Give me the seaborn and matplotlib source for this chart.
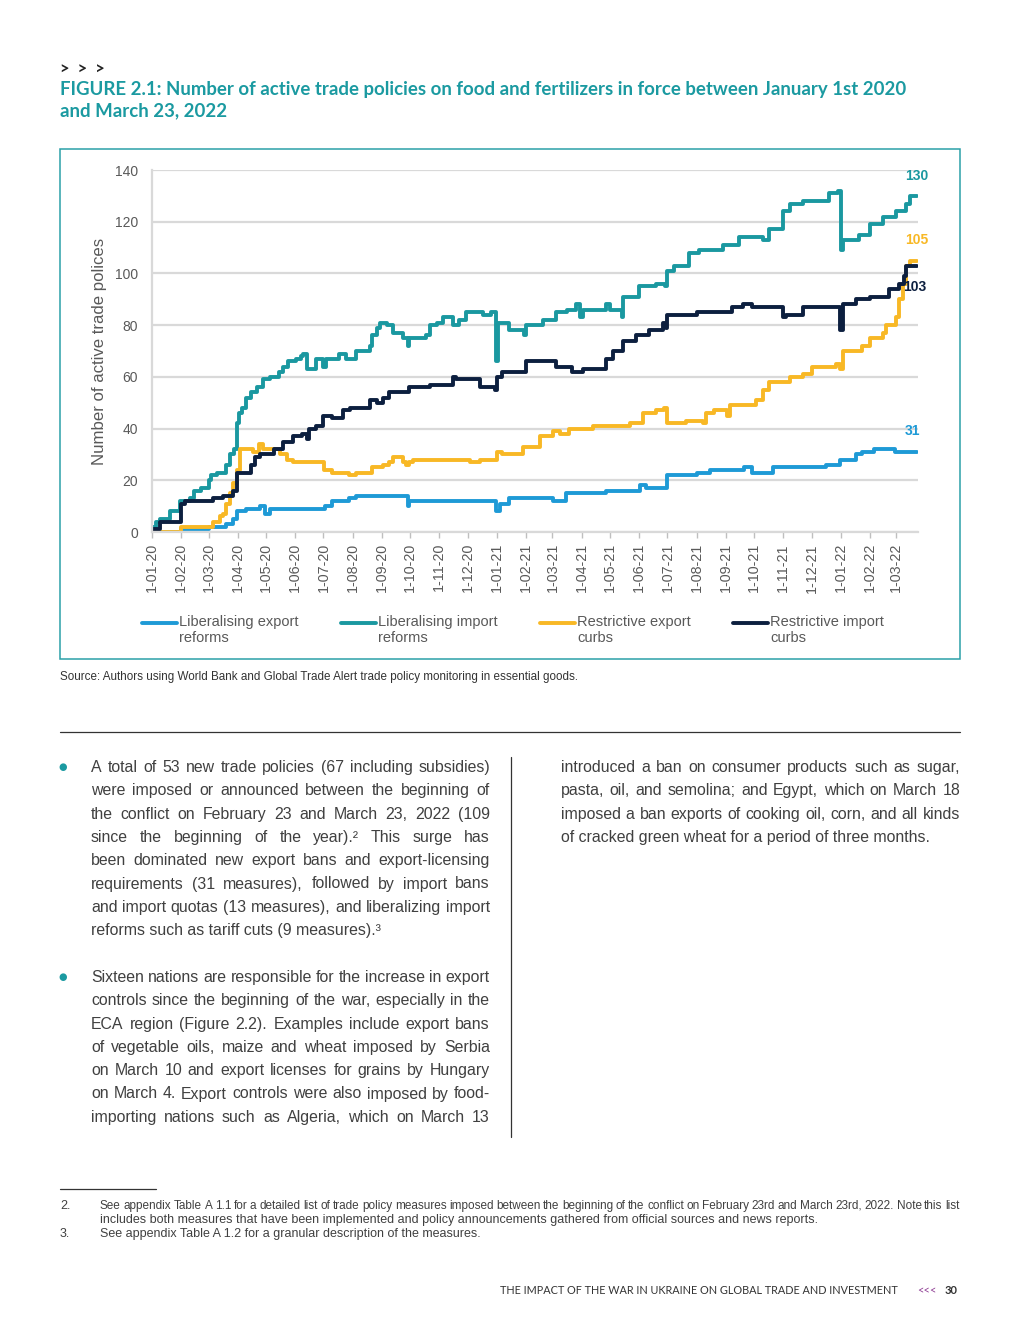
import matplotlib
matplotlib.use('Agg')
import matplotlib.pyplot as plt
import matplotlib.dates as mdates
from matplotlib import font_manager
from matplotlib.patches import Rectangle
from matplotlib.lines import Line2D
from matplotlib.legend_handler import HandlerLine2D
from matplotlib.ticker import FuncFormatter
import seaborn as sns
import pandas as pd

W, H = 1020, 1320

# ---- data ----
lib_export_dates = ['2020-01-01', '2020-02-01', '2020-03-01', '2020-03-20', '2020-03-27', '2020-03-31',
                    '2020-04-10', '2020-04-25', '2020-04-30', '2020-05-05', '2020-07-03', '2020-07-10',
                    '2020-07-28', '2020-08-05', '2020-09-29', '2020-09-30', '2020-12-31', '2021-01-04',
                    '2021-01-14', '2021-03-02', '2021-03-15', '2021-04-27', '2021-06-02', '2021-06-08',
                    '2021-07-01', '2021-08-01', '2021-08-15', '2021-09-20', '2021-09-29', '2021-10-21',
                    '2021-12-16', '2021-12-31', '2022-01-17', '2022-01-24', '2022-02-05', '2022-02-28',
                    '2022-03-23']
lib_export_vals = [0, 1, 2, 3, 5, 8, 9, 10, 7, 9, 10, 12, 13, 14, 10, 12, 8, 11, 13, 12, 15, 16, 18, 17,
                   22, 23, 24, 25, 23, 25, 26, 28, 30, 31, 32, 31, 31]

lib_import_dates = ['2020-01-01', '2020-01-05', '2020-01-10', '2020-01-20', '2020-01-31', '2020-02-10',
                    '2020-02-15', '2020-02-22', '2020-03-01', '2020-03-04', '2020-03-10', '2020-03-20',
                    '2020-03-24', '2020-03-28', '2020-03-31', '2020-04-02', '2020-04-05', '2020-04-10',
                    '2020-04-15', '2020-04-21', '2020-04-28', '2020-05-05', '2020-05-15', '2020-05-19',
                    '2020-05-24', '2020-06-02', '2020-06-07', '2020-06-09', '2020-06-13', '2020-06-23',
                    '2020-06-30', '2020-07-04', '2020-07-18', '2020-07-25', '2020-08-05', '2020-08-19',
                    '2020-08-22', '2020-08-27', '2020-08-30', '2020-09-06', '2020-09-13', '2020-09-23',
                    '2020-09-29', '2020-09-30', '2020-10-18', '2020-10-22', '2020-10-29', '2020-11-05',
                    '2020-11-15', '2020-11-22', '2020-11-29', '2020-12-17', '2020-12-26', '2020-12-31',
                    '2021-01-02', '2021-01-14', '2021-01-30', '2021-02-01', '2021-02-19', '2021-03-05',
                    '2021-03-16', '2021-03-26', '2021-03-30', '2021-04-02', '2021-04-27', '2021-05-01',
                    '2021-05-14', '2021-05-15', '2021-06-01', '2021-06-19', '2021-06-29', '2021-07-01',
                    '2021-07-08', '2021-07-24', '2021-08-04', '2021-08-29', '2021-09-15', '2021-10-10',
                    '2021-10-17', '2021-11-01', '2021-11-08', '2021-11-22', '2021-12-20', '2021-12-29',
                    '2022-01-01', '2022-01-03', '2022-01-20', '2022-02-01', '2022-02-15', '2022-03-01',
                    '2022-03-11', '2022-03-15', '2022-03-23']
lib_import_vals = [2, 4, 5, 8, 12, 13, 16, 17, 20, 22, 23, 26, 30, 32, 42, 46, 48, 52, 54, 56, 59, 60, 62,
                   64, 66, 67, 68, 69, 63, 67, 64, 67, 69, 67, 70, 72, 76, 79, 81, 80, 77, 75, 72, 75, 76,
                   80, 81, 83, 80, 82, 85, 84, 85, 66, 81, 78, 76, 80, 82, 85, 86, 88, 83, 86, 88, 86, 83,
                   91, 95, 96, 95, 101, 103, 108, 109, 111, 114, 113, 117, 124, 127, 128, 131, 132, 109,
                   113, 115, 119, 122, 124, 127, 130, 130]

restr_export_dates = ['2020-01-01', '2020-02-01', '2020-03-06', '2020-03-13', '2020-03-16', '2020-03-20',
                      '2020-03-24', '2020-03-27', '2020-03-31', '2020-04-03', '2020-04-17', '2020-04-24',
                      '2020-04-28', '2020-05-16', '2020-05-23', '2020-05-30', '2020-07-02', '2020-07-10',
                      '2020-07-28', '2020-08-05', '2020-08-22', '2020-09-02', '2020-09-09', '2020-09-13',
                      '2020-09-23', '2020-09-27', '2020-09-30', '2020-10-04', '2020-12-03', '2020-12-14',
                      '2021-01-01', '2021-01-07', '2021-01-29', '2021-02-16', '2021-03-02', '2021-03-09',
                      '2021-03-19', '2021-04-13', '2021-05-22', '2021-06-05', '2021-06-19', '2021-06-27',
                      '2021-07-01', '2021-07-21', '2021-08-08', '2021-08-11', '2021-08-20', '2021-09-02',
                      '2021-09-05', '2021-10-03', '2021-10-10', '2021-10-17', '2021-11-08', '2021-11-22',
                      '2021-12-02', '2021-12-27', '2021-12-31', '2022-01-03', '2022-01-24', '2022-02-01',
                      '2022-02-15', '2022-02-18', '2022-03-01', '2022-03-04', '2022-03-08', '2022-03-11',
                      '2022-03-15', '2022-03-23']
restr_export_vals = [0, 2, 4, 6, 7, 11, 15, 19, 24, 32, 31, 34, 32, 30, 28, 27, 24, 23, 22, 23, 25, 26,
                     27, 29, 27, 26, 27, 28, 27, 28, 31, 30, 33, 37, 39, 38, 40, 41, 42, 46, 47, 48, 42,
                     43, 42, 46, 47, 45, 49, 51, 55, 58, 60, 61, 64, 65, 63, 70, 72, 75, 77, 80, 83, 90,
                     96, 103, 105, 105]

restr_import_dates = ['2020-01-01', '2020-01-09', '2020-02-01', '2020-02-05', '2020-03-06', '2020-03-16',
                      '2020-03-27', '2020-03-31', '2020-04-15', '2020-04-19', '2020-04-25', '2020-05-09',
                      '2020-05-19', '2020-05-30', '2020-06-08', '2020-06-14', '2020-06-16', '2020-06-23',
                      '2020-06-30', '2020-07-10', '2020-07-22', '2020-07-29', '2020-08-19', '2020-08-27',
                      '2020-09-02', '2020-09-09', '2020-09-30', '2020-10-22', '2020-11-15', '2020-11-19',
                      '2020-12-14', '2020-12-30', '2021-01-01', '2021-01-07', '2021-02-01', '2021-03-05',
                      '2021-03-22', '2021-04-02', '2021-04-27', '2021-05-04', '2021-05-15', '2021-05-29',
                      '2021-06-12', '2021-06-26', '2021-06-30', '2021-07-01', '2021-08-01', '2021-09-08',
                      '2021-09-19', '2021-09-29', '2021-11-01', '2021-11-04', '2021-11-22', '2021-12-31',
                      '2022-01-03', '2022-01-17', '2022-02-01', '2022-02-21', '2022-03-04', '2022-03-09',
                      '2022-03-11', '2022-03-23']
restr_import_vals = [1, 4, 11, 12, 13, 14, 16, 23, 26, 29, 30, 32, 35, 37, 38, 36, 40, 41, 45, 44, 47,
                     48, 51, 50, 52, 54, 56, 57, 60, 59, 56, 55, 60, 62, 66, 64, 62, 63, 67, 70, 74, 76,
                     78, 81, 79, 84, 85, 87, 88, 87, 83, 84, 87, 78, 88, 90, 91, 94, 96, 99, 103, 103]

series_names = ['Liberalising export\nreforms', 'Liberalising import\nreforms',
                'Restrictive export\ncurbs', 'Restrictive import\ncurbs']
series_colors = ['#1e9ad6', '#1a98a0', '#f8b825', '#0c1f3f']
series_dates = [lib_export_dates, lib_import_dates, restr_export_dates, restr_import_dates]
series_vals = [lib_export_vals, lib_import_vals, restr_export_vals, restr_import_vals]

sns.set_theme(style='white')
plt.rcParams['font.family'] = ['Liberation Sans', 'DejaVu Sans']

names = {f.name for f in font_manager.fontManager.ttflist}
narrow = 'Liberation Sans Narrow' if 'Liberation Sans Narrow' in names else 'Liberation Sans'
title_font = 'Lato' if 'Lato' in names else 'DejaVu Sans'

TEAL = '#1b9aa1'
GRAY = '#595959'
BODY = '#404040'

fig = plt.figure(figsize=(W / 100, H / 100), dpi=100)
r = fig.canvas.get_renderer()


def fx(x):
    return x / W


def fy(y):
    return 1 - y / H


def fit_text(x, y, s, width, size, **kw):
    t = fig.text(fx(x), fy(y), s, fontsize=size, **kw)
    w = t.get_window_extent(r).width
    t.set_fontsize(size * width / w)
    return t


def justified(lines, x0, x1, y0, dy, size, color, family, last_full=False, min_gap=3.5):
    for i, line in enumerate(lines):
        y = y0 + i * dy
        last = (i == len(lines) - 1) and not last_full
        if last:
            fig.text(fx(x0), fy(y), line, fontsize=size, color=color, family=family, va='baseline')
            continue
        words = line.split()
        texts = [fig.text(0, 0, w, fontsize=size, color=color, family=family, va='baseline') for w in words]
        widths = [t.get_window_extent(r).width for t in texts]
        gap = (x1 - x0 - sum(widths)) / (len(words) - 1)
        if gap < min_gap:
            # squeeze a too-long line a little
            k = (x1 - x0 - min_gap * (len(words) - 1)) / sum(widths)
            for t in texts:
                t.set_fontsize(size * k)
            widths = [w * k for w in widths]
            gap = min_gap
        x = x0
        for t, w in zip(texts, widths):
            t.set_position((fx(x), fy(y)))
            x += w + gap


class FirstLineHandler(HandlerLine2D):
    # put the legend line next to the first text line, not the middle
    def create_artists(self, legend, orig_handle, xdescent, ydescent, width, height, fontsize, trans):
        return super().create_artists(legend, orig_handle, xdescent, ydescent - 11, width, height,
                                      fontsize, trans)


# ---- header ----
fig.text(fx(60), fy(69), '>  >  >', fontsize=12, fontweight='bold', color='#222222', va='center', family=title_font)
fit_text(60, 89, 'FIGURE 2.1: Number of active trade policies on food and fertilizers in force between January 1st 2020',
         842, 13.5, color=TEAL, fontweight='bold', family=title_font, va='center')
fig.text(fx(60), fy(111), 'and March 23, 2022', fontsize=fig.texts[-1].get_fontsize(), color=TEAL,
         fontweight='bold', family=title_font, va='center')

# chart frame
fig.patches.append(Rectangle((fx(60), fy(659)), 900 / W, 510 / H, transform=fig.transFigure,
                             fill=False, edgecolor='#2ba0a8', lw=1.1))

# ---- chart ----
ax = fig.add_axes([fx(152), fy(532), 766 / W, 362 / H])
for name, color, d, v in zip(series_names, series_colors, series_dates, series_vals):
    df = pd.DataFrame({'date': pd.to_datetime(d), 'value': v})
    sns.lineplot(data=df, x='date', y='value', ax=ax, color=color, lw=2.8, estimator=None,
                 drawstyle='steps-post', label=name)
ax.get_legend().remove()

ax.set_xlim(pd.Timestamp('2020-01-01'), pd.Timestamp('2022-03-24'))
ax.set_ylim(0, 140)
ax.set_yticks(range(0, 141, 20))
ax.xaxis.set_major_locator(mdates.MonthLocator())
ax.xaxis.set_major_formatter(FuncFormatter(
    lambda v, p: '{}-{:02d}-{:02d}'.format(mdates.num2date(v).day, mdates.num2date(v).month,
                                           mdates.num2date(v).year % 100)))
ax.set_xlabel('')
ax.set_ylabel('Number of active trade polices', fontsize=12.1, color=GRAY, labelpad=6)
ax.yaxis.grid(True, color='#d9d9d9', lw=1.6)
ax.set_axisbelow(True)
for s in ['top', 'right']:
    ax.spines[s].set_visible(False)
for s in ['left', 'bottom']:
    ax.spines[s].set_color('#d9d9d9')
    ax.spines[s].set_linewidth(1.6)
ax.tick_params(axis='x', bottom=True, length=4, width=1, color='#bfbfbf', labelsize=10.3,
               labelcolor=GRAY, rotation=90, pad=4)
ax.tick_params(axis='y', length=0, pad=10, labelsize=10, labelcolor=GRAY)

# end value labels
end_offsets = [(-3, 15), (0, 14), (0, 15), (-2, -15.5)]
for color, d, v, off in zip(series_colors, series_dates, series_vals, end_offsets):
    ax.annotate(str(v[-1]), xy=(pd.Timestamp(d[-1]), v[-1]), xytext=off, textcoords='offset points',
                ha='center', va='center', fontsize=10, fontweight='bold', color=color)

handles = [Line2D([], [], color=c, lw=2.8) for c in series_colors]
fig.legend(handles, series_names, ncol=4, loc='upper left', bbox_to_anchor=(fx(142), fy(615)),
           frameon=False, fontsize=10.5, labelcolor=GRAY, handlelength=2.4, handletextpad=0.15,
           columnspacing=2.9, borderpad=0, borderaxespad=0,
           handler_map={Line2D: FirstLineHandler()})

fit_text(60, 677, 'Source: Authors using World Bank and Global Trade Alert trade policy monitoring in essential goods.',
         516, 8.2, color='#333333', family=narrow, va='center')

# ---- body text ----
fig.add_artist(Line2D([fx(60), fx(960)], [fy(732), fy(732)], color='#333333', lw=0.9))
fig.add_artist(Line2D([fx(511), fx(511)], [fy(757), fy(1137)], color='#333333', lw=0.9))

para1 = ['A total of 53 new trade policies (67 including subsidies)',
         'were imposed or announced between the beginning of',
         'the conflict on February 23 and March 23, 2022 (109',
         'since the beginning of the year).²  This surge has',
         'been dominated new export bans and export-licensing',
         'requirements (31 measures),  followed by import bans',
         'and import quotas (13 measures), and liberalizing import',
         'reforms such as tariff cuts (9 measures).³']
para2 = ['Sixteen nations are responsible for the increase in export',
         'controls since the beginning of the war, especially in the',
         'ECA region (Figure 2.2). Examples include export bans',
         'of vegetable oils, maize and wheat imposed by Serbia',
         'on March 10 and export licenses for grains by Hungary',
         'on March 4. Export controls were also imposed by food-',
         'importing nations such as Algeria, which on March 13']
para3 = ['introduced a ban on consumer products such as sugar,',
         'pasta, oil, and semolina; and Egypt, which on March 18',
         'imposed a ban exports of cooking oil, corn, and all kinds',
         'of cracked green wheat for a period of three months.']

justified(para1, 91, 490, 772, 23.3, 11.4, BODY, 'Liberation Sans')
justified(para2, 91, 490, 982, 23.3, 11.4, BODY, 'Liberation Sans', last_full=True)
justified(para3, 561, 960, 772, 23.3, 11.4, BODY, 'Liberation Sans')
for yb in [767, 977]:
    fig.text(fx(63), fy(yb), '●', fontsize=7, color=TEAL, ha='center', va='center', family='DejaVu Sans')

# ---- footnotes ----
fig.add_artist(Line2D([fx(60), fx(156)], [fy(1189), fy(1189)], color='#333333', lw=0.9))
fig.text(fx(60), fy(1209), '2.', fontsize=9, color=BODY, family=narrow, va='baseline')
justified(['See appendix Table A 1.1 for a detailed list of trade policy measures imposed between the beginning of the conflict on February 23rd and March 23rd, 2022. Note this list',
           'includes both measures that have been implemented and policy announcements gathered from official sources and news reports.'],
          100, 960, 1209, 14, 9, BODY, narrow, min_gap=2.5)
fig.text(fx(60), fy(1237), '3.', fontsize=9, color=BODY, family=narrow, va='baseline')
fig.text(fx(100), fy(1237), 'See appendix Table A 1.2 for a granular description of the measures.',
         fontsize=9, color=BODY, family=narrow, va='baseline')

# ---- footer ----
fit_text(500, 1290, 'THE IMPACT OF THE WAR IN UKRAINE ON GLOBAL TRADE AND INVESTMENT', 400, 7.5,
         color='#333333', va='center', family=title_font)
fig.text(fx(917), fy(1291), '<<<', fontsize=8, color='#8e3b93', va='center', family=title_font)
fig.text(fx(945), fy(1290), '30', fontsize=8, fontweight='bold', color='#333333', va='center', family=title_font)

fig.savefig('out.png', dpi=100)
